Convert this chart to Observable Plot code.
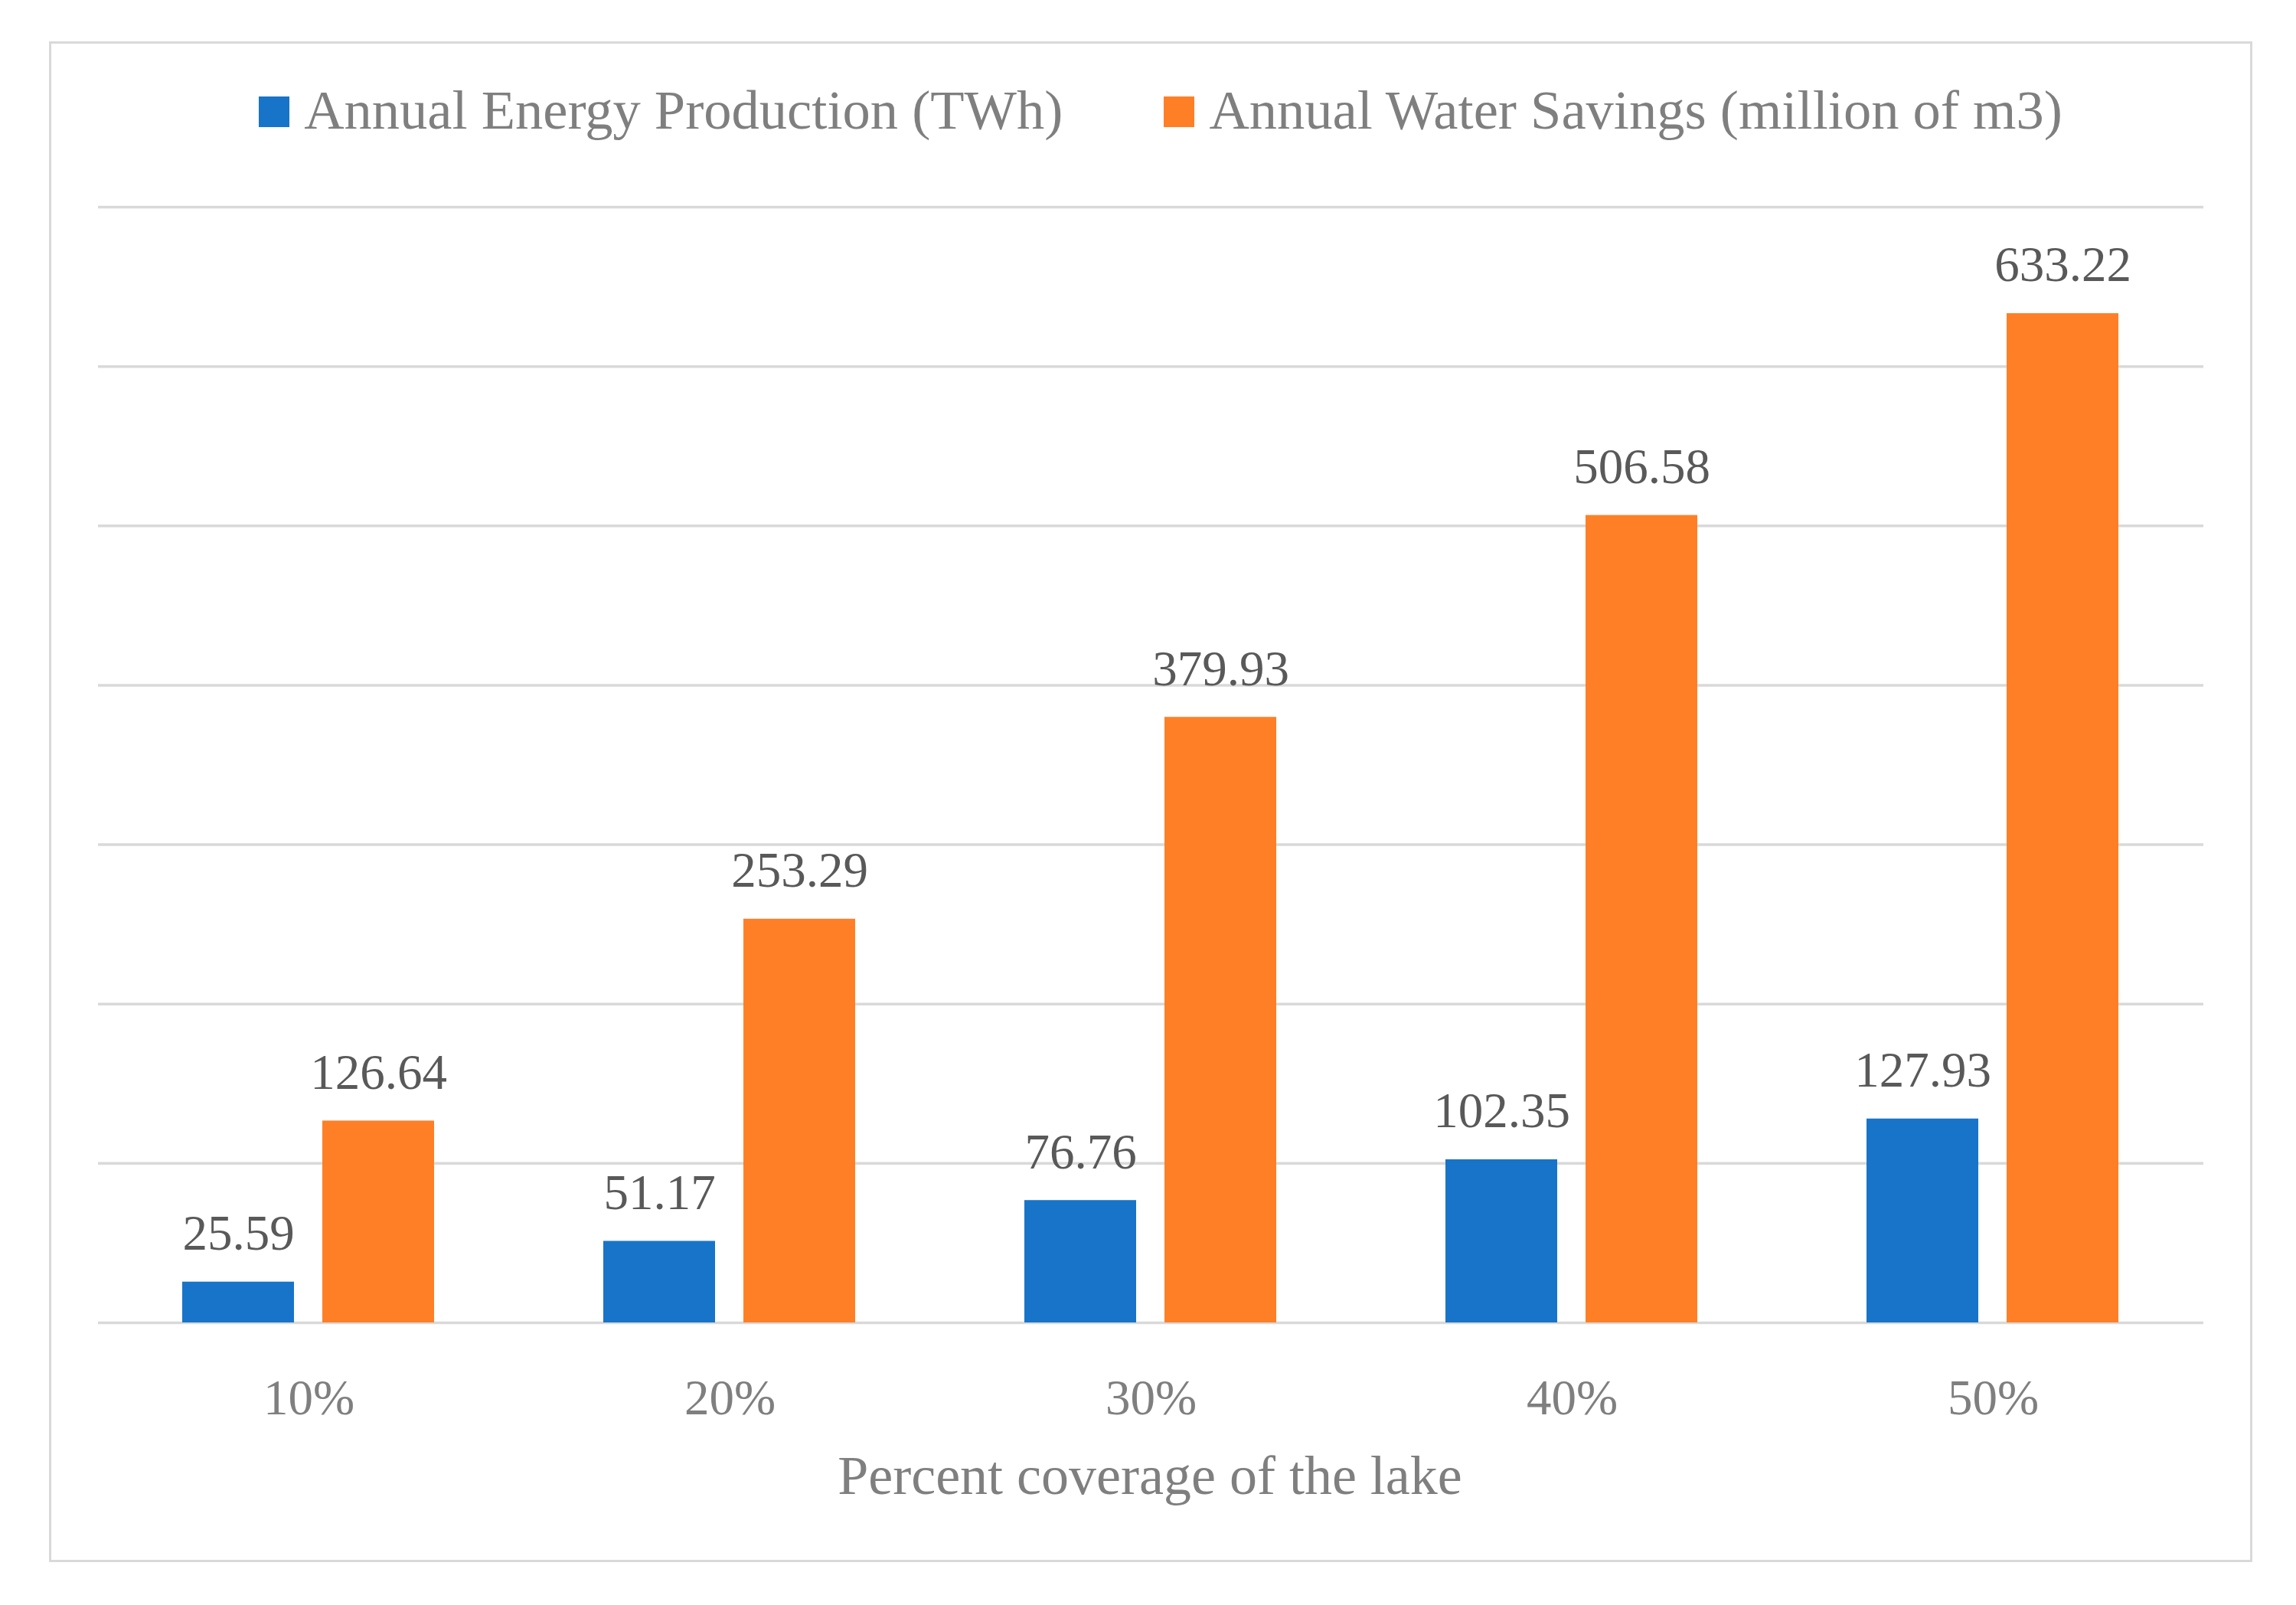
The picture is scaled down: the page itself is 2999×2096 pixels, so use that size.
<!DOCTYPE html>
<html>
<head>
<meta charset="utf-8">
<script src="https://cdn.jsdelivr.net/npm/d3@7"></script>
<script src="https://cdn.jsdelivr.net/npm/@observablehq/plot@0.6"></script>
<style>
  html, body { margin: 0; padding: 0; background: #fff; overflow: hidden; }
  body { width: 2999px; height: 2096px; position: relative;
         font-family: "Palatino Linotype", "Book Antiqua", Palatino, "Liberation Serif", serif; }
  #frame { position: absolute; left: 64px; top: 54px; width: 2878px; height: 1986px;
           border: 3px solid #d9d9d9; box-sizing: border-box; z-index: 5; pointer-events: none; }
  #legend { position: absolute; left: 0; width: 3032px; top: 108px; display: flex;
            justify-content: center; font-size: 72.5px; line-height: 1; color: #7f7f7f; white-space: nowrap; }
  #legend .item { display: inline-flex; align-items: baseline; }
  #legend .item + .item { margin-left: 132px; }
  #legend .sw { display: inline-block; width: 40px; height: 40px; margin-right: 19px; position: relative; top: -2px; }
  #chart { position: absolute; left: 0; top: 200px; }
  #xtitle { position: absolute; left: 0; width: 3004px; top: 1891px; text-align: center;
            font-size: 72px; line-height: 1; color: #7f7f7f; white-space: nowrap; }
</style>
</head>
<body>
<div id="frame"></div>
<div id="legend"></div>
<div id="chart"></div>
<div id="xtitle"></div>
<script>
const categories = ["10%", "20%", "30%", "40%", "50%"];
const seriesNames = ["Annual Energy Production (TWh)", "Annual Water Savings (million of m3)"];
const energy = [25.59, 51.17, 76.76, 102.35, 127.93];
const water = [126.64, 253.29, 379.93, 506.58, 633.22];
const yTicks = [0, 100, 200, 300, 400, 500, 600, 700];
const colors = ["#1874c8", "#ff7f27"];
const xTitle = "Percent coverage of the lake";

const rows = [];
categories.forEach((c, i) => {
  rows.push({cat: c, series: seriesNames[0], value: energy[i]});
  rows.push({cat: c, series: seriesNames[1], value: water[i]});
});

// legend
const legend = document.getElementById("legend");
seriesNames.forEach((s, i) => {
  const item = document.createElement("span");
  item.className = "item";
  const sw = document.createElement("span");
  sw.className = "sw";
  sw.style.background = colors[i];
  item.appendChild(sw);
  item.appendChild(document.createTextNode(s));
  legend.appendChild(item);
});
document.getElementById("xtitle").textContent = xTitle;

const fontFamily = '"Palatino Linotype", "Book Antiqua", Palatino, "Liberation Serif", serif';

const chart = Plot.plot({
  width: 2999,
  height: 1697,
  marginTop: 70,
  marginBottom: 170,
  marginLeft: 126,
  marginRight: 120,
  style: {background: "transparent", fontFamily, fontSize: "65px", color: "#7f7f7f"},
  fx: {domain: categories, padding: 0, axis: null, label: null},
  x: {domain: seriesNames, paddingInner: 0.2, paddingOuter: 0.6, axis: null, label: null},
  y: {domain: [0, 700], axis: null, label: null},
  color: {domain: seriesNames, range: colors},
  marks: [
    Plot.gridY(yTicks, {stroke: "#d9d9d9", strokeOpacity: 1, strokeWidth: 3.5}),
    Plot.barY(rows, {fx: "cat", x: "series", y: "value", fill: "series"}),
    Plot.text(rows, {fx: "cat", x: "series", y: "value", text: d => d.value.toFixed(2),
      dy: -42, lineAnchor: "bottom", fill: "#595959", fontSize: 65}),
    Plot.text(categories, {fx: d => d, text: d => d, frameAnchor: "bottom", dy: 119,
      lineAnchor: "bottom", fill: "#7f7f7f", fontSize: 65})
  ]
});
document.getElementById("chart").appendChild(chart);
</script>
</body>
</html>
